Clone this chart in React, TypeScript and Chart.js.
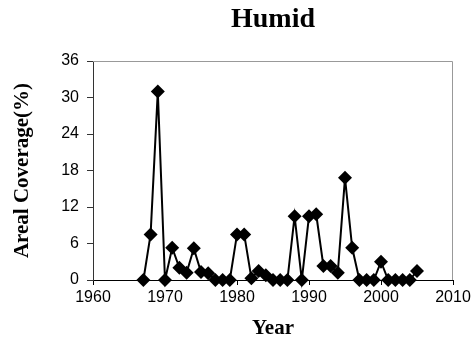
import React, { useEffect, useRef } from "react";
import { Chart, registerables } from "chart.js";

Chart.register(...registerables);

const years = [1967, 1968, 1969, 1970, 1971, 1972, 1973, 1974, 1975, 1976, 1977, 1978, 1979, 1980, 1981, 1982, 1983, 1984, 1985, 1986, 1987, 1988, 1989, 1990, 1991, 1992, 1993, 1994, 1995, 1996, 1997, 1998, 1999, 2000, 2001, 2002, 2003, 2004, 2005];
const coverage = [0, 7.5, 31, 0, 5.3, 2, 1.2, 5.2, 1.3, 1.1, 0, 0, 0, 7.5, 7.5, 0.3, 1.5, 0.8, 0, 0, 0, 10.5, 0, 10.5, 10.8, 2.3, 2.3, 1.2, 16.8, 5.3, 0, 0, 0, 3, 0, 0, 0, 0, 1.5];
const xTicks = [1960, 1970, 1980, 1990, 2000, 2010];
const yTicks = [0, 6, 12, 18, 24, 30, 36];
const chartTitle = "Humid";

const frame = {
  id: "frame",
  afterDraw(chart: any) {
    const { ctx, chartArea: a } = chart;
    ctx.save();
    ctx.strokeStyle = "#999999";
    ctx.lineWidth = 1;
    ctx.beginPath();
    ctx.moveTo(a.left, a.top + 0.5);
    ctx.lineTo(a.right - 0.5, a.top + 0.5);
    ctx.lineTo(a.right - 0.5, a.bottom);
    ctx.stroke();
    ctx.fillStyle = "#000";
    ctx.font = "bold 28px 'Liberation Serif'";
    ctx.textAlign = "center";
    ctx.textBaseline = "alphabetic";
    ctx.fillText(chartTitle, (a.left + a.right) / 2, 27);
    ctx.restore();
  },
};

export default function App() {
  const ref = useRef<HTMLCanvasElement>(null);
  useEffect(() => {
    const chart = new Chart(ref.current!, {
      type: "line",
      data: {
        datasets: [
          {
            data: years.map((y, i) => ({ x: y, y: coverage[i] })),
            borderColor: "#000",
            backgroundColor: "#000",
            borderWidth: 2,
            pointStyle: "rectRot",
            pointRadius: 7,
            pointBorderWidth: 0,
            tension: 0,
            clip: false as any,
          },
        ],
      },
      plugins: [frame],
      options: {
        animation: false,
        responsive: false,
        layout: { padding: { left: 0, right: 22, top: 61, bottom: 0 } },
        plugins: {
          legend: { display: false },
          tooltip: { enabled: false },
          title: { display: false },
        },
        scales: {
          x: {
            type: "linear",
            min: 1960,
            max: 2010,
            afterBuildTicks: (s: any) => {
              s.ticks = xTicks.map((v) => ({ value: v }));
            },
            afterFit: (s: any) => {
              s.height = 61;
            },
            ticks: {
              color: "#000",
              font: { family: "Liberation Sans", size: 16 },
              padding: 3,
              maxRotation: 0,
              callback: (v: any) => String(v),
            },
            grid: { display: true, drawOnChartArea: false, drawTicks: true, tickLength: 5, color: "#000" },
            border: { display: true, color: "#000", width: 1 },
            title: {
              display: true,
              text: "Year",
              color: "#000",
              font: { family: "Liberation Serif", size: 21, weight: "bold" },
              padding: { top: 0, bottom: 0 },
            },
          },
          y: {
            type: "linear",
            min: 0,
            max: 36,
            afterBuildTicks: (s: any) => {
              s.ticks = yTicks.map((v) => ({ value: v }));
            },
            afterFit: (s: any) => {
              s.width = 93;
            },
            ticks: {
              color: "#000",
              font: { family: "Liberation Sans", size: 16 },
              padding: 8,
            },
            grid: { display: true, drawOnChartArea: false, drawTicks: true, tickLength: 6, color: "#333" },
            border: { display: true, color: "#333", width: 1 },
            title: {
              display: true,
              text: "Areal Coverage(%)",
              color: "#000",
              font: { family: "Liberation Serif", size: 21, weight: "bold" },
              padding: { top: 10, bottom: 0 },
            },
          },
        },
      },
    });
    return () => chart.destroy();
  }, []);
  return (
    <div style={{ position: "fixed", left: 0, top: 0, width: 475, height: 341, background: "#fff" }}>
      <canvas ref={ref} width={475} height={341} />
    </div>
  );
}
